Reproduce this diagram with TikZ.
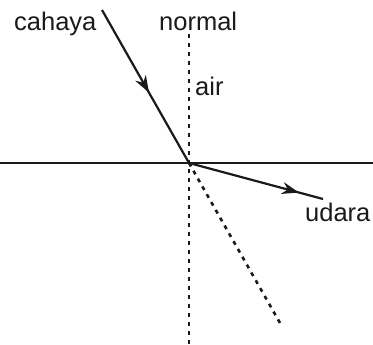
\documentclass[tikz,border=0pt]{standalone}
\usepackage{fontspec}
\setmainfont{Liberation Sans}
\usepackage{tikz}
\usetikzlibrary{arrows.meta,positioning,decorations.markings,calc}
\definecolor{ink}{HTML}{1A1A1A}
\tikzset{
  raybase/.style={
    line width=2.2pt, color=ink
  },
  rayarrow/.style={
    raybase,
    decoration={markings,
      mark=at position #1 with {\arrow{Stealth[length=17pt,width=12pt]}}},
    postaction={decorate}
  },
  rayarrow/.default=0.5,
  dotline/.style={
    line width=2.6pt, color=ink, dash pattern=on 4pt off 5pt
  },
  surface/.style={
    line width=1.8pt, color=ink
  },
  labeltext/.style={
    font=\fontsize{25.5}{30}\selectfont, text=ink, inner sep=0pt
  },
}
\begin{document}
\begin{tikzpicture}[x=1pt,y=-1pt]
\useasboundingbox (0,0) rectangle (373,345);

% points
\coordinate (O) at (189,163);
\coordinate (src) at (102,10);
\coordinate (out) at (323,199);
\coordinate (ext) at (280,323);
\coordinate (ntop) at (189,34);
\coordinate (nbot) at (189,345);
\coordinate (sl) at (0,163);
\coordinate (sr) at (373,163);

% labels
\node[labeltext, anchor=base west] (cahaya) at (14,31) {cahaya};
\node[labeltext, anchor=base west] (normal) at (159,31) {normal};
\node[labeltext, anchor=base west] (air) at (195,96) {air};
\node[labeltext, anchor=base west] (udara) at (305,222) {udara};

% surface and normal
\draw[surface] (sl) -- (sr);
\draw[dotline] (ntop) -- (nbot);

% rays
\draw[rayarrow=0.54] (src) -- (O);
\draw[rayarrow=0.82] (O) -- (out);
\draw[dotline] (O) -- (ext);

\end{tikzpicture}
\end{document}
